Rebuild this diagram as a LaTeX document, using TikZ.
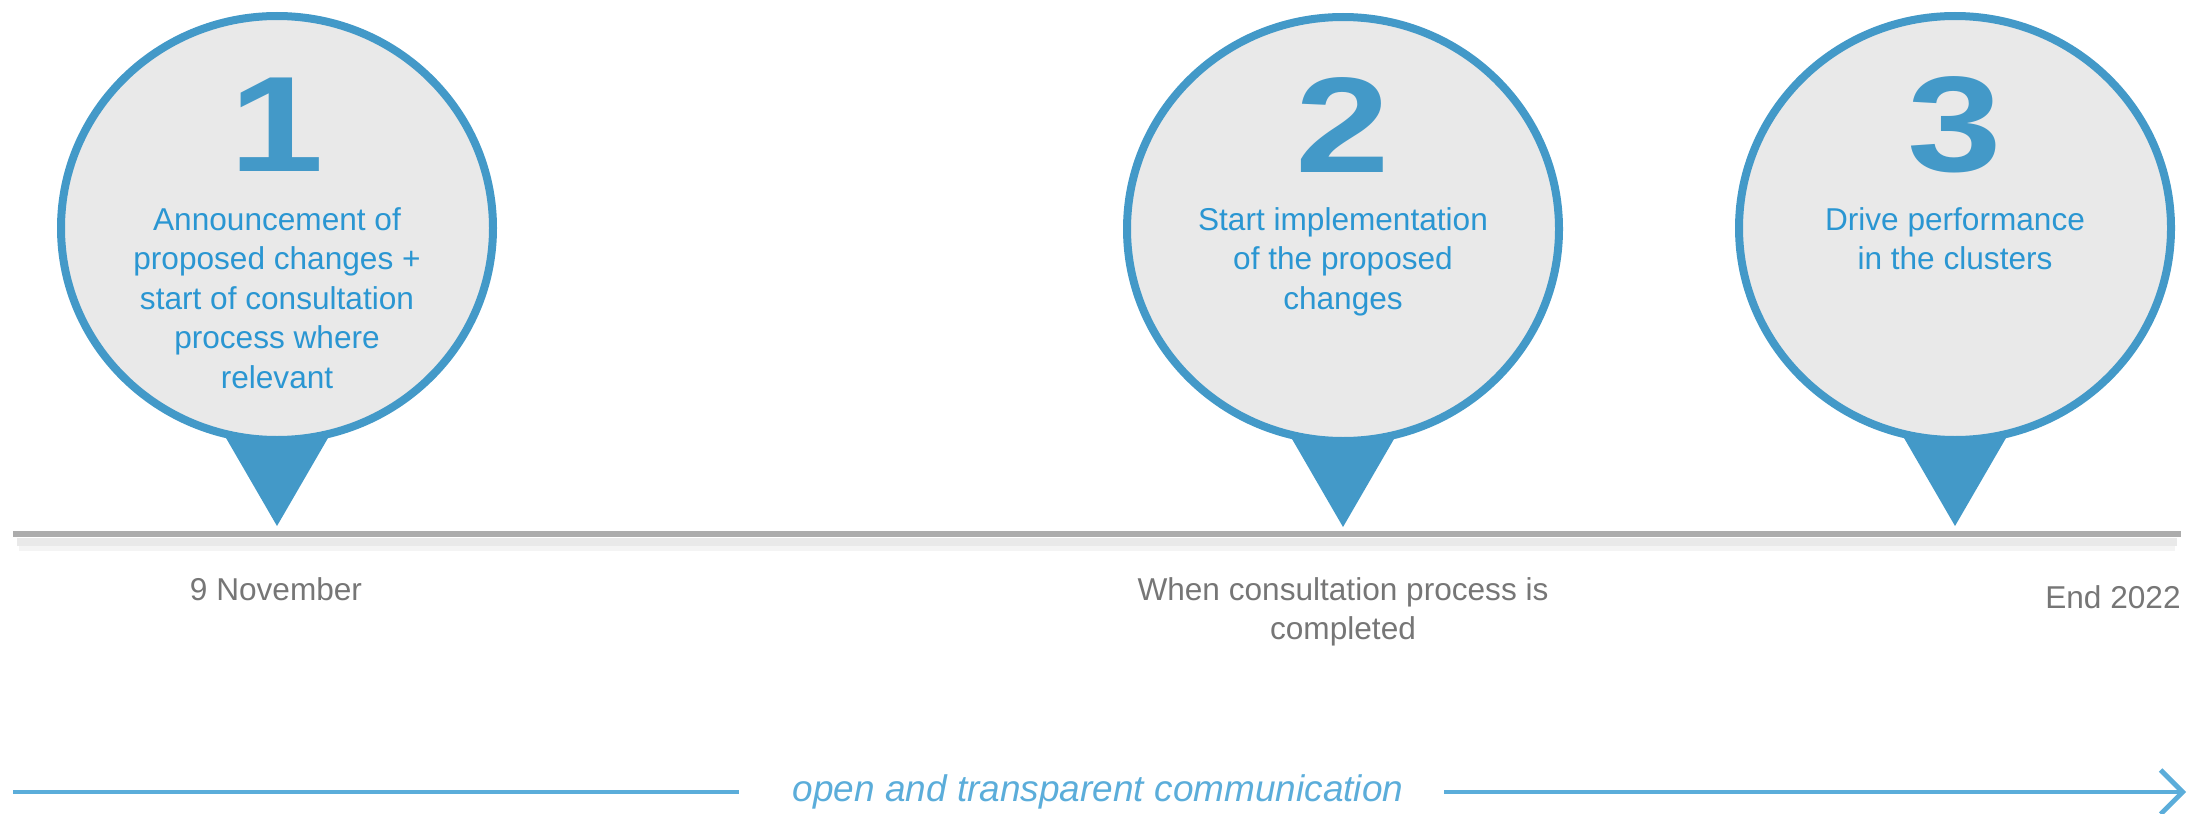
\documentclass[tikz,border=0pt]{standalone}
\usepackage{fontspec}
\setmainfont{Liberation Sans}
\usetikzlibrary{shapes.geometric,arrows.meta,calc}
\definecolor{pinblue}{RGB}{67,153,200}
\definecolor{textblue}{RGB}{42,150,210}
\definecolor{bubblegray}{RGB}{233,233,233}
\definecolor{dategray}{RGB}{118,118,118}
\definecolor{linegray}{RGB}{172,172,172}
\definecolor{commblue}{RGB}{91,173,218}
\tikzstyle{bubble} = [draw=pinblue, fill=bubblegray, ellipse, line width=4pt, minimum width=216pt, minimum height=212pt, inner sep=0pt]
\tikzstyle{pin} = [fill=pinblue]
\tikzstyle{numlabel} = [text=pinblue, font=\fontsize{68}{70}\selectfont\bfseries, xscale=1.25, inner sep=0pt]
\tikzstyle{steptext} = [text=textblue, align=center, anchor=base, inner sep=0pt, font=\fontsize{15.8}{19.75}\selectfont]
\tikzstyle{datelabel} = [text=dategray, align=center, anchor=base, inner sep=0pt, font=\fontsize{15.8}{19.75}\selectfont]
\tikzstyle{commline} = [draw=commblue, line width=2.4pt]

\begin{document}
\begin{tikzpicture}[x=0.5pt, y=-0.5pt]
        \useasboundingbox (0,0) rectangle (2198,813);
        % pins below the bubbles
        \coordinate (tip1) at (277,526);
        \coordinate (tip2) at (1343,527);
        \coordinate (tip3) at (1955,526);
        \fill[pin] (tip1) -- ++(-73,-126) -- ++(146,0) -- cycle;
        \fill[pin] (tip2) -- ++(-73,-126) -- ++(146,0) -- cycle;
        \fill[pin] (tip3) -- ++(-73,-126) -- ++(146,0) -- cycle;
        % bubbles
        \node[bubble] (bubble1) at (277,228) {};
        \node[bubble] (bubble2) at (1343,229) {};
        \node[bubble] (bubble3) at (1955,228) {};
        \node[numlabel] (num1) at ($(bubble1.center)+(0,-103)$) {1};
        \node[numlabel] (num2) at ($(bubble2.center)+(0,-104)$) {2};
        \node[numlabel] (num3) at ($(bubble3.center)+(0,-103)$) {3};
        % base anchor sits on the last line
        \node[steptext] (txt1) at (277,388) {Announcement of\\proposed changes +\\start of consultation\\process where\\relevant};
        \node[steptext] (txt2) at (1343,309) {Start implementation\\of the proposed\\changes};
        \node[steptext] (txt3) at (1955,269.5) {Drive performance\\in the clusters};
        % timeline
        \coordinate (tlstart) at (13,534);
        \coordinate (tlend) at (2181,534);
        \draw[linegray!45, line width=4pt, opacity=0.6] ($(tlstart)+(4,8)$) -- ($(tlend)+(-4,8)$);
        \draw[linegray!25, line width=4pt, opacity=0.5] ($(tlstart)+(6,13)$) -- ($(tlend)+(-6,13)$);
        \draw[linegray, line width=3pt] (tlstart) -- (tlend);
        \node[datelabel] (date1) at (276,600) {9 November};
        \node[datelabel] (date2) at (1343,639.5) {When consultation process is\\completed};
        \node[datelabel, anchor=base east] (date3) at (2181,608) {End 2022};
        % communication arrow
        \node[text=commblue, font=\fontsize{18.5}{22}\selectfont\itshape, inner sep=0pt] (comm) at (1098,792) {open and transparent communication};
        \coordinate (commstart) at (13,792);
        \coordinate (commleft) at (739,792);
        \coordinate (commright) at (1444,792);
        \coordinate (commend) at (2186,792);
        \draw[commline] (commstart) -- (commleft);
        \draw[commline, -{Straight Barb[length=11pt, width=22pt]}] (commright) -- (commend);
    \end{tikzpicture}
\end{document}
